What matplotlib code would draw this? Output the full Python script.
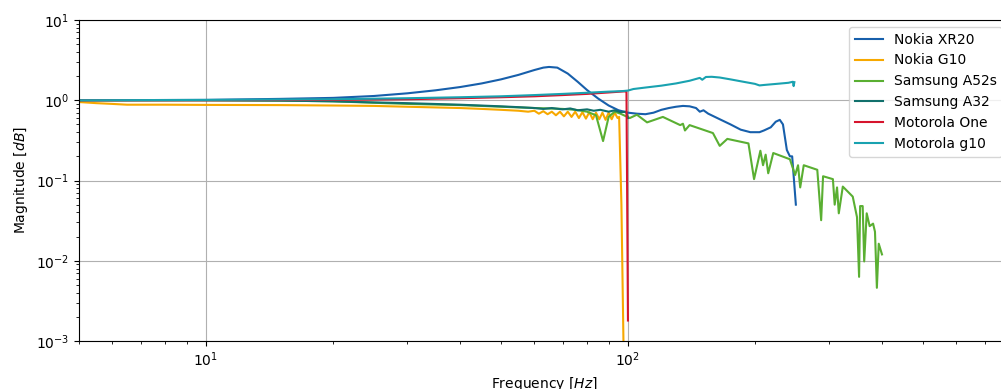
import matplotlib
matplotlib.use("Agg")
import matplotlib.pyplot as plt

# ---- data ----
xr20_f = [5, 10, 15, 20, 25, 30, 35, 40, 45, 50, 55, 60, 63, 65, 68, 72, 76, 80, 85, 90, 95,
          100, 105, 110, 115, 120, 125, 130, 135, 140, 145, 148, 151, 155, 165, 175, 185, 195,
          205, 210, 218, 224, 229, 233, 238, 242, 245, 250]
xr20_m = [1.00, 1.01, 1.04, 1.07, 1.13, 1.22, 1.33, 1.46, 1.62, 1.82, 2.07, 2.38, 2.55, 2.60,
          2.55, 2.15, 1.70, 1.34, 1.05, 0.86, 0.75, 0.70, 0.68, 0.67, 0.70, 0.76, 0.80, 0.83,
          0.85, 0.84, 0.80, 0.72, 0.75, 0.68, 0.58, 0.50, 0.43, 0.40, 0.40, 0.42, 0.46, 0.54,
          0.57, 0.50, 0.24, 0.20, 0.20, 0.05]

g10_f = [5, 5.5, 6, 6.5, 8, 10, 15, 20, 25, 30, 33, 40, 45, 50, 55, 58,
         60, 61.5, 63, 64.5, 66, 67.5, 69, 70.5, 72, 73.5, 75, 76.5, 78, 79.5, 81, 82.5,
         84, 85.5, 87, 88.5, 90, 91.5, 93, 94.5, 95.3, 96.5, 97.6]
g10_m = [0.95, 0.92, 0.90, 0.88, 0.88, 0.875, 0.87, 0.86, 0.85, 0.83, 0.82, 0.80, 0.78,
         0.76, 0.74, 0.72, 0.74, 0.68, 0.73, 0.67, 0.72, 0.65, 0.72, 0.63, 0.72, 0.62,
         0.72, 0.60, 0.71, 0.59, 0.71, 0.58, 0.70, 0.58, 0.70, 0.57, 0.70, 0.58, 0.70,
         0.60, 0.62, 0.05, 0.0009]

a52s_f = [5, 10, 15, 20, 25, 30, 40, 50, 60, 70, 75, 80, 84, 87.3, 90, 93, 96, 101,
          105, 111, 121, 133, 135, 136.5, 140, 159, 165, 172, 193, 199, 206, 209, 212, 215,
          221, 242, 249, 253, 256, 261, 281, 287, 290, 306, 309, 313, 316, 323, 341, 349,
          353, 355, 360, 363, 368, 374, 381, 385, 389, 393, 400]
a52s_m = [1.00, 1.00, 0.99, 0.97, 0.93, 0.90, 0.87, 0.83, 0.80, 0.78, 0.76, 0.72, 0.65,
          0.31, 0.62, 0.72, 0.68, 0.60, 0.66, 0.53, 0.62, 0.49, 0.51, 0.42, 0.49, 0.39,
          0.27, 0.33, 0.29, 0.104, 0.235, 0.155, 0.21, 0.123, 0.22, 0.184, 0.117, 0.155,
          0.082, 0.155, 0.136, 0.032, 0.113, 0.104, 0.05, 0.082, 0.039, 0.084, 0.063,
          0.035, 0.0063, 0.048, 0.048, 0.0098, 0.039, 0.027, 0.029, 0.023, 0.0046, 0.0163,
          0.012]

a32_f = [5, 10, 15, 20, 25, 30, 40, 50, 55, 60, 63, 66, 70, 73, 76, 80, 83, 86, 90, 93,
         96, 99, 100]
a32_m = [1.00, 1.00, 0.99, 0.97, 0.94, 0.92, 0.88, 0.84, 0.82, 0.80, 0.78, 0.80, 0.77,
         0.79, 0.75, 0.77, 0.74, 0.76, 0.72, 0.75, 0.71, 0.72, 0.60]

one_f = [5, 10, 20, 30, 40, 50, 60, 70, 80, 90, 98, 99.2, 100]
one_m = [1.00, 1.00, 1.01, 1.03, 1.06, 1.09, 1.12, 1.16, 1.20, 1.25, 1.29, 1.28, 0.0018]

mg10_f = [5, 10, 20, 30, 40, 50, 60, 70, 80, 90, 97, 100, 103, 110, 120, 130, 140, 148,
          150, 153, 158, 165, 175, 190, 200, 205, 210, 225, 240, 246, 247, 248]
mg10_m = [1.00, 1.01, 1.03, 1.06, 1.09, 1.12, 1.16, 1.20, 1.24, 1.28, 1.30, 1.32, 1.38,
          1.44, 1.52, 1.62, 1.75, 1.90, 1.80, 1.95, 1.96, 1.92, 1.82, 1.68, 1.60, 1.53,
          1.55, 1.60, 1.65, 1.70, 1.50, 1.68]

labels = ["Nokia XR20", "Nokia G10", "Samsung A52s", "Samsung A32", "Motorola One", "Motorola g10"]
colors = ["#175fab", "#f7a800", "#5aaf32", "#11706c", "#d6142d", "#19a2b0"]

series = [(xr20_f, xr20_m), (g10_f, g10_m), (a52s_f, a52s_m),
          (a32_f, a32_m), (one_f, one_m), (mg10_f, mg10_m)]

fig = plt.figure(figsize=(10.01, 3.89), dpi=100)
ax = fig.add_axes([79 / 1001, 48 / 389, (1009 - 79) / 1001, 321 / 389])

for (f, m), lab, c in zip(series, labels, colors):
    ax.plot(f, m, color=c, lw=1.5, label=lab)

ax.set_xscale("log")
ax.set_yscale("log")
ax.set_xlim(5, 800)
ax.set_ylim(1e-3, 1e1)
ax.grid(True, which="major")
ax.set_xlabel("Frequency [$Hz$]")
ax.set_ylabel("Magnitude [$dB$]")
ax.legend(loc="upper right")

fig.savefig("out.png", dpi=100)
